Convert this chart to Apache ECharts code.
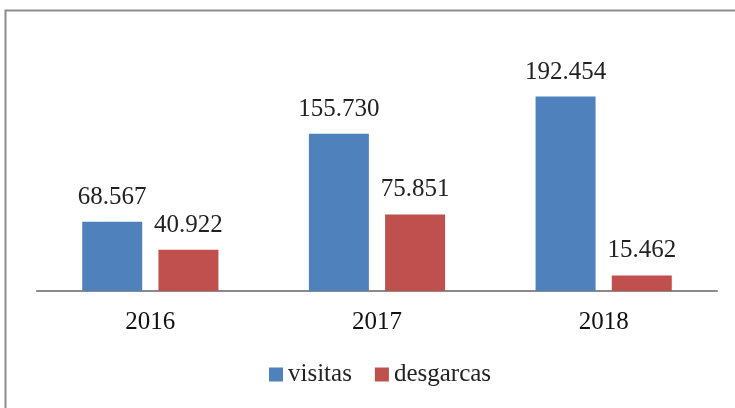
<!DOCTYPE html>
<html><head><meta charset="utf-8">
<script src="https://cdn.jsdelivr.net/npm/echarts@6/dist/echarts.min.js"></script>
<style>html,body{margin:0;padding:0;background:#fff}#c{width:735px;height:408px}</style>
</head><body><div id="c"></div>
<script>
var categories = ['2016', '2017', '2018'];
var visitas = [68567, 155730, 192454];
var desgarcas = [40922, 75851, 15462];
var seriesNames = ['visitas', 'desgarcas'];

function fmt(v) {
  return String(v).replace(/\B(?=(\d{3})+(?!\d))/g, '.');
}
var font = '"Liberation Serif", "Times New Roman", serif';
var chart = echarts.init(document.getElementById('c'));
chart.setOption({
  animation: false,
  backgroundColor: '#fff',
  graphic: [{
    type: 'rect', shape: {x: 5.5, y: 10.5, width: 800, height: 500},
    style: {fill: 'none', stroke: '#8c8c8c', lineWidth: 2}, silent: true
  }],
  grid: {left: 37, right: 18, top: 89, bottom: 117},
  legend: {
    data: seriesNames, bottom: 16, left: 264, itemWidth: 14, itemHeight: 14,
    itemGap: 23, icon: 'rect',
    textStyle: {fontFamily: font, fontSize: 25, color: '#222'}
  },
  xAxis: {
    type: 'category', data: categories,
    axisLine: {lineStyle: {color: '#8a8a8a', width: 2}},
    axisTick: {show: false},
    axisLabel: {fontFamily: font, fontSize: 25, color: '#111', margin: 19}
  },
  yAxis: {type: 'value', min: 0, max: 200000, show: false, splitLine: {show: false}},
  series: [
    {name: seriesNames[0], type: 'bar', data: visitas, barWidth: 60, barGap: '27%',
     itemStyle: {color: '#4F81BD'},
     label: {show: true, position: 'top', distance: 12, formatter: function(p){return fmt(p.value);},
       fontFamily: font, fontSize: 25, color: '#222'}},
    {name: seriesNames[1], type: 'bar', data: desgarcas, barWidth: 60,
     itemStyle: {color: '#C0504D'},
     label: {show: true, position: 'top', distance: 12, formatter: function(p){return fmt(p.value);},
       fontFamily: font, fontSize: 25, color: '#222'}}
  ]
});
</script></body></html>
